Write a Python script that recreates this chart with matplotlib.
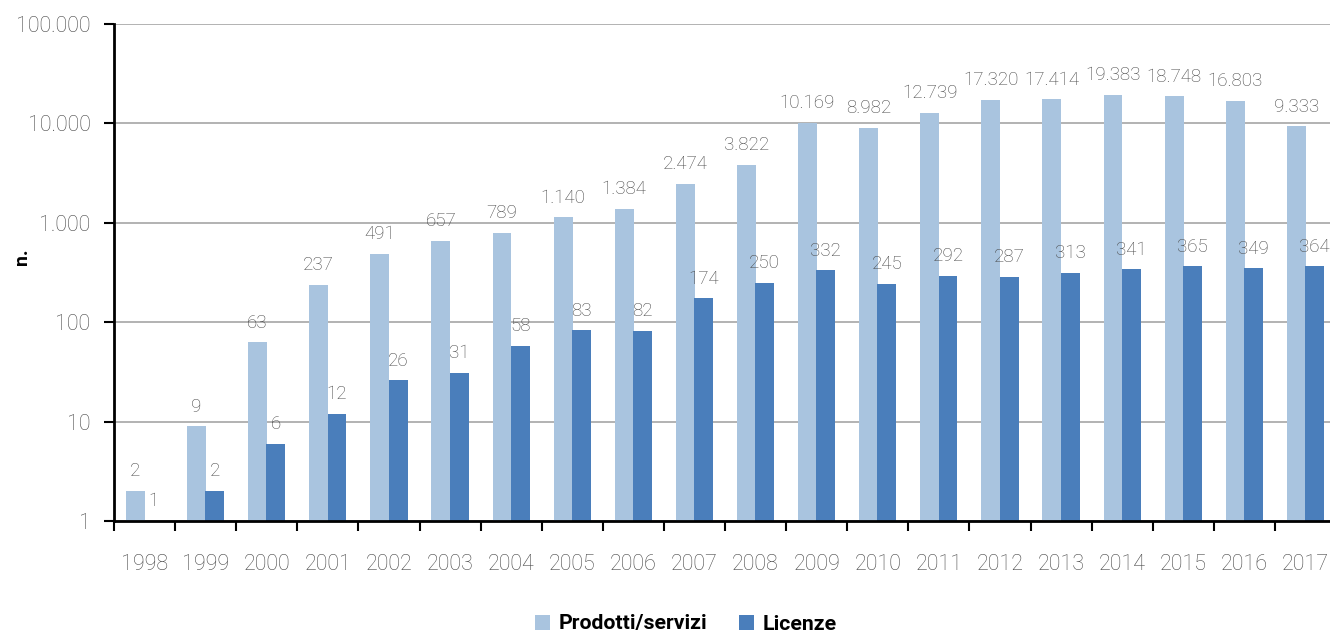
import matplotlib
matplotlib.use("Agg")
import matplotlib.pyplot as plt
import numpy as np
from matplotlib.ticker import FuncFormatter, FixedLocator, NullLocator

years = ["1998", "1999", "2000", "2001", "2002", "2003", "2004", "2005", "2006", "2007",
         "2008", "2009", "2010", "2011", "2012", "2013", "2014", "2015", "2016", "2017"]
prodotti = [2, 9, 63, 237, 491, 657, 789, 1140, 1384, 2474,
            3822, 10169, 8982, 12739, 17320, 17414, 19383, 18748, 16803, 9333]
licenze = [1, 2, 6, 12, 26, 31, 58, 83, 82, 174,
           250, 332, 245, 292, 287, 313, 341, 365, 349, 364]
series_names = ["Prodotti/servizi", "Licenze"]
y_ticks = [1, 10, 100, 1000, 10000, 100000]

plt.rcParams['font.family'] = ['Roboto', 'DejaVu Sans']

W, H = 1330, 635
fig = plt.figure(figsize=(W / 100, H / 100), dpi=100)
left, right, top, bottom = 114, 1336, 24, 521
ax = fig.add_axes([left / W, 1 - bottom / H, (right - left) / W, (bottom - top) / H])

light = "#a9c4df"
dark = "#4a7ebb"
txt = "#484848"

x = np.arange(len(years))
bw = 0.31
off = 0.15
ax.bar(x - off, prodotti, width=bw, color=light, linewidth=0, label=series_names[0], zorder=3)
ax.bar(x + off, licenze, width=bw, color=dark, linewidth=0, label=series_names[1], zorder=3)

def fmt(v):
    return f"{v:,}".replace(",", ".")

for i in range(len(years)):
    ax.annotate(fmt(prodotti[i]), (x[i] - off, prodotti[i]), xytext=(0, 10.5),
                textcoords="offset points", ha="center", va="baseline",
                fontsize=13.5, color=txt, fontweight="light", zorder=4)
    ax.annotate(fmt(licenze[i]), (x[i] + off, licenze[i]), xytext=(0, 10.5),
                textcoords="offset points", ha="center", va="baseline",
                fontsize=13.5, color=txt, fontweight="light", zorder=4)

ax.set_yscale("log")
ax.set_ylim(1, 100000)
ax.set_xlim(-0.5, len(years) - 0.5)
ax.yaxis.set_major_locator(FixedLocator(y_ticks))
ax.yaxis.set_minor_locator(NullLocator())
ax.yaxis.set_major_formatter(FuncFormatter(lambda v, p: fmt(int(round(v)))))
ax.grid(axis="y", color="#a6a6a6", linewidth=1.2, zorder=0)

ax.set_xticks(x)
ax.set_xticklabels(years)
ax.tick_params(axis="x", which="major", length=0, pad=24, labelsize=15.5, labelcolor=txt)
ax.set_xticks(np.arange(len(years) + 1) - 0.5, minor=True)
ax.tick_params(axis="x", which="minor", length=7, width=1.5, color="black", direction="out")
ax.tick_params(axis="y", length=7, width=1.5, color="black", labelsize=15.5, labelcolor=txt, pad=10)
for lab in ax.get_xticklabels() + ax.get_yticklabels():
    lab.set_fontweight("light")

for s in ["top", "right"]:
    ax.spines[s].set_visible(False)
for s in ["left", "bottom"]:
    ax.spines[s].set_linewidth(2)
    ax.spines[s].set_color("black")
    ax.spines[s].set_zorder(5)

fig.text(22 / W, 1 - 257 / H, "n.", rotation=90, ha="center", va="center",
         fontsize=14, fontweight="bold", color="black")

leg = fig.legend(loc="center", bbox_to_anchor=(686 / W, 1 - 624 / H), ncol=2, frameon=False,
                 handlelength=0.7, handleheight=0.7, handletextpad=0.4, columnspacing=1.5,
                 borderpad=0.2, prop={"size": 15.3, "weight": "bold"})
for t in leg.get_texts():
    t.set_color("black")

fig.savefig("out.png", dpi=100)
